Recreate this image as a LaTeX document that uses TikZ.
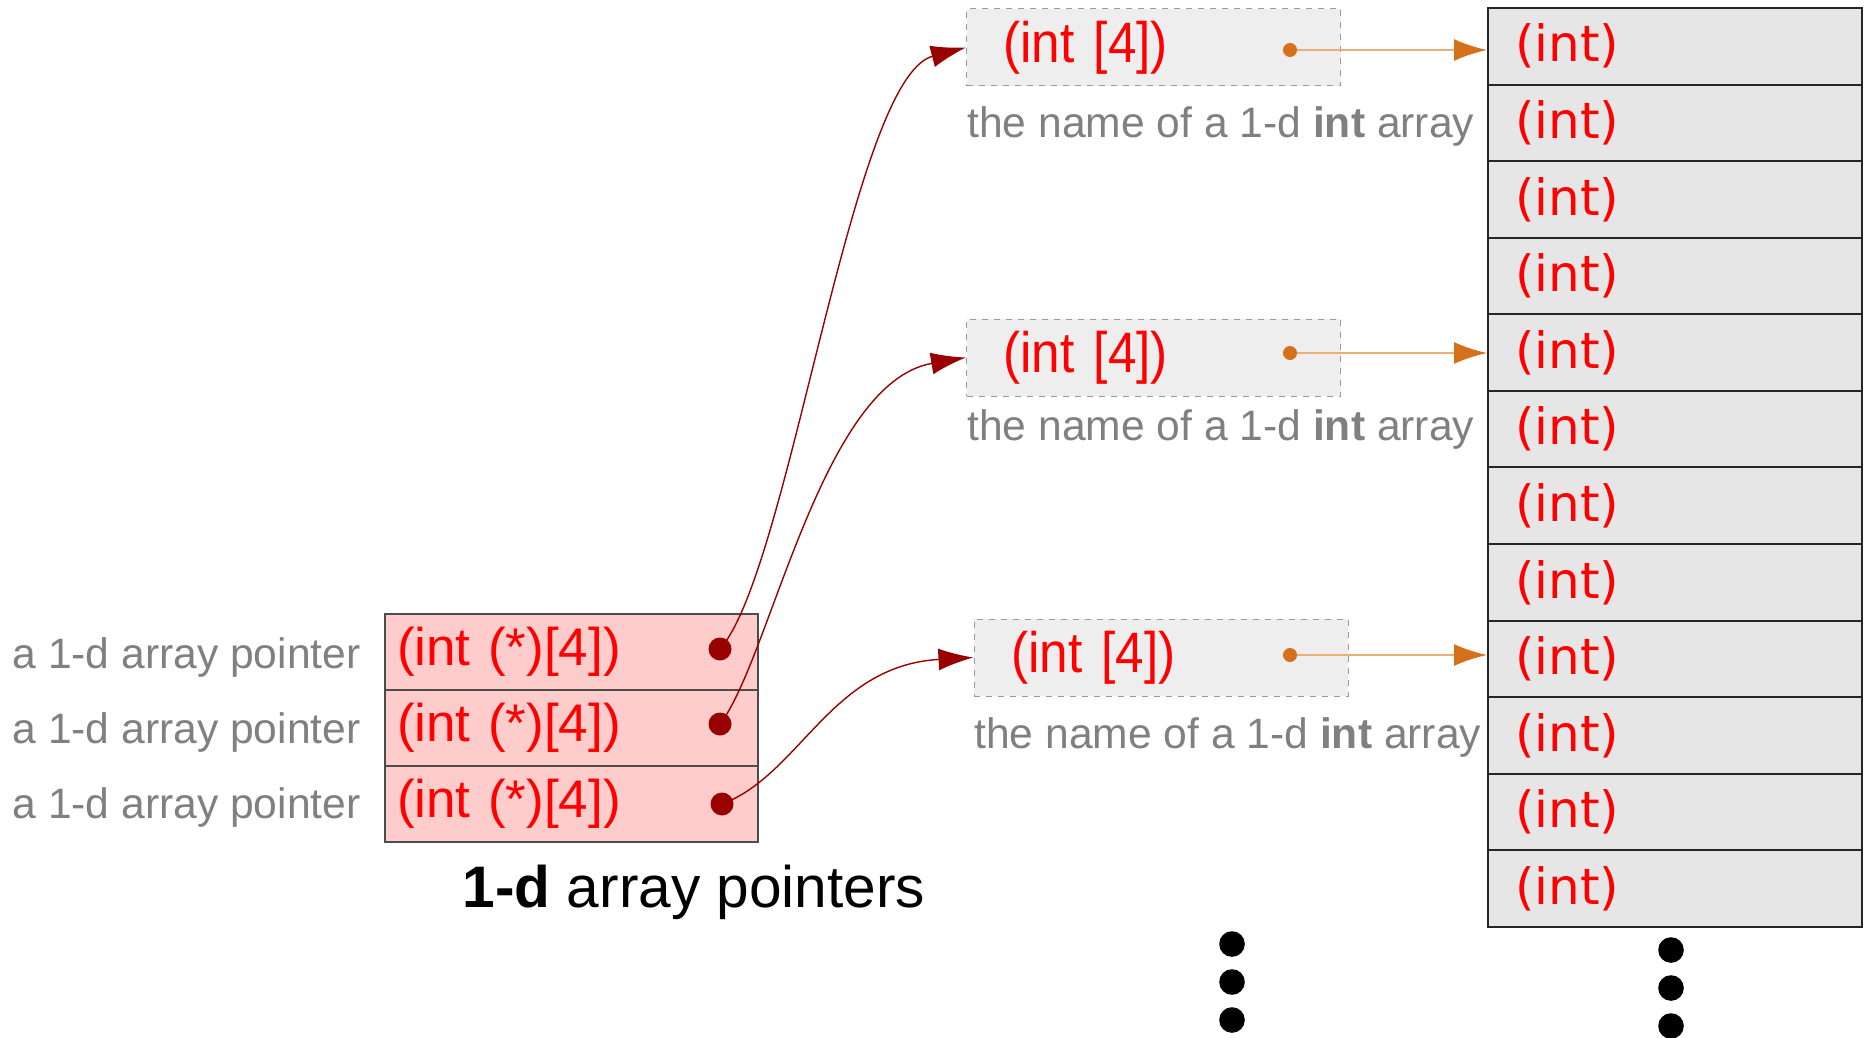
\documentclass[tikz,border=0pt]{standalone}
\usepackage{fontspec}
\setmainfont{Liberation Sans}
\newfontfamily\cellfont{DejaVu Sans}
\newfontfamily\narrowfont[FakeStretch=0.9]{Liberation Sans}
\usepackage {tikz}
\usetikzlibrary {positioning}
\usetikzlibrary{calc}
\usetikzlibrary{arrows.meta}
\definecolor{ptrred}{HTML}{990000}
\definecolor{pinkrow}{HTML}{FFCCCC}
\definecolor{cellgray}{HTML}{E6E6E6}
\definecolor{boxgray}{HTML}{EEEEEE}
\definecolor{txtgray}{HTML}{808080}
\definecolor{orng}{HTML}{D4711A}
\definecolor{ornglt}{HTML}{EBAE78}
\newcommand{\nameof}{the name of a 1-d \textbf{int} array}
\newcommand{\aptr}{a 1-d array pointer}

\begin{document}
\begin{tikzpicture}[x=0.5pt,y=-0.5pt,
    cell/.style={draw=black!85, line width=1pt, fill=cellgray, minimum width=187pt,
      minimum height=38.29pt, text width=160pt, inner xsep=13.5pt, inner ysep=0pt,
      align=left, text=red, font=\cellfont\fontsize{25}{30}\selectfont},
    prow/.style={draw=black!70, line width=0.6pt, fill=pinkrow, minimum width=186.5pt,
      minimum height=38pt, text width=174.5pt, inner xsep=6pt, inner ysep=0pt,
      align=left, text=red, font=\fontsize{26.5}{30}\selectfont},
    abox/.style={draw=black!40, dashed, line width=0.5pt, fill=boxgray, minimum width=187pt,
      minimum height=38.5pt, text width=150pt, inner xsep=18.5pt, inner ysep=0pt,
      align=left, text=red, font=\narrowfont\fontsize{28.5}{32}\selectfont},
    glabel/.style={text=txtgray, inner sep=0pt, font=\fontsize{21.3}{25}\selectfont},
    pdot/.style={circle, fill=ptrred, minimum size=11.5pt, inner sep=0pt},
    odot/.style={circle, fill=orng, minimum size=7pt, inner sep=0pt},
    bdot/.style={circle, fill=black, minimum size=12.8pt, inner sep=0pt},
    ptr/.style={ptrred, line width=0.7pt, -{Latex[length=17.5pt,width=11pt]}},
    ref/.style={draw=ornglt, line width=1pt, -{Latex[length=16.5pt,width=11pt,color=orng]}}]
    \useasboundingbox (0,0) rectangle (1865,1038);

    % the int column
    \foreach \i in {1,...,12}
      \node[cell] (c\i) at (1675,{8+76.58*(\i-0.5)}) {(int)};

    % 1-d array pointers
    \foreach \i/\y in {1/652,2/728,3/804}
      \node[prow] (p\i) at (571.5,\y) {(int (*)[4])};
    \foreach \i/\y in {1/668,2/743,3/818}
      \node[glabel, anchor=base east] (l\i) at (361,\y) {\aptr};
    \node[anchor=base, inner sep=0pt, font=\fontsize{29.3}{34}\selectfont] (cap) at (694,907)
      {\textbf{1-d} array pointers};

    % int [4] boxes
    \node[abox] (a1) at (1153.5,47.5) {(int [4])};
    \node[abox] (a2) at (1153.5,357.5) {(int [4])};
    \node[abox] (a3) at (1161,657.5) {(int [4])};
    \node[glabel, anchor=base west] (n1) at (967,138) {\nameof};
    \node[glabel, anchor=base west] (n2) at (967,440) {\nameof};
    \node[glabel, anchor=base west] (n3) at (974,748) {\nameof};

    \coordinate (d1) at (720,649);
    \coordinate (d2) at (720,724);
    \coordinate (d3) at (722,804);
    \coordinate (o1) at (1290,50);
    \coordinate (o2) at (1290,353);
    \coordinate (o3) at (1290,655);

    \draw[ptr] (d1) .. controls +(70,-79) and +(-115,30) .. (a1.west);
    \draw[ptr] (d2) .. controls +(50,-64) and +(-145,25) .. (a2.west);
    \draw[ptr] (d3) .. controls +(78,-29) and +(-143,8) .. (a3.west);
    \draw[ref] (o1) -- (o1 -| c1.west);
    \draw[ref] (o2) -- (o2 -| c5.west);
    \draw[ref] (o3) -- (o3 -| c9.west);

    \foreach \i in {1,2,3} {
      \node[pdot] (pd\i) at (d\i) {};
      \node[odot] (od\i) at (o\i) {};
    }

    % more below
    \foreach \y [count=\k] in {944,982,1020}
      \node[bdot] (u\k) at (1232,\y) {};
    \foreach \y [count=\k] in {950,988,1026}
      \node[bdot] (v\k) at (1671,\y) {};
\end{tikzpicture}
\end{document}
